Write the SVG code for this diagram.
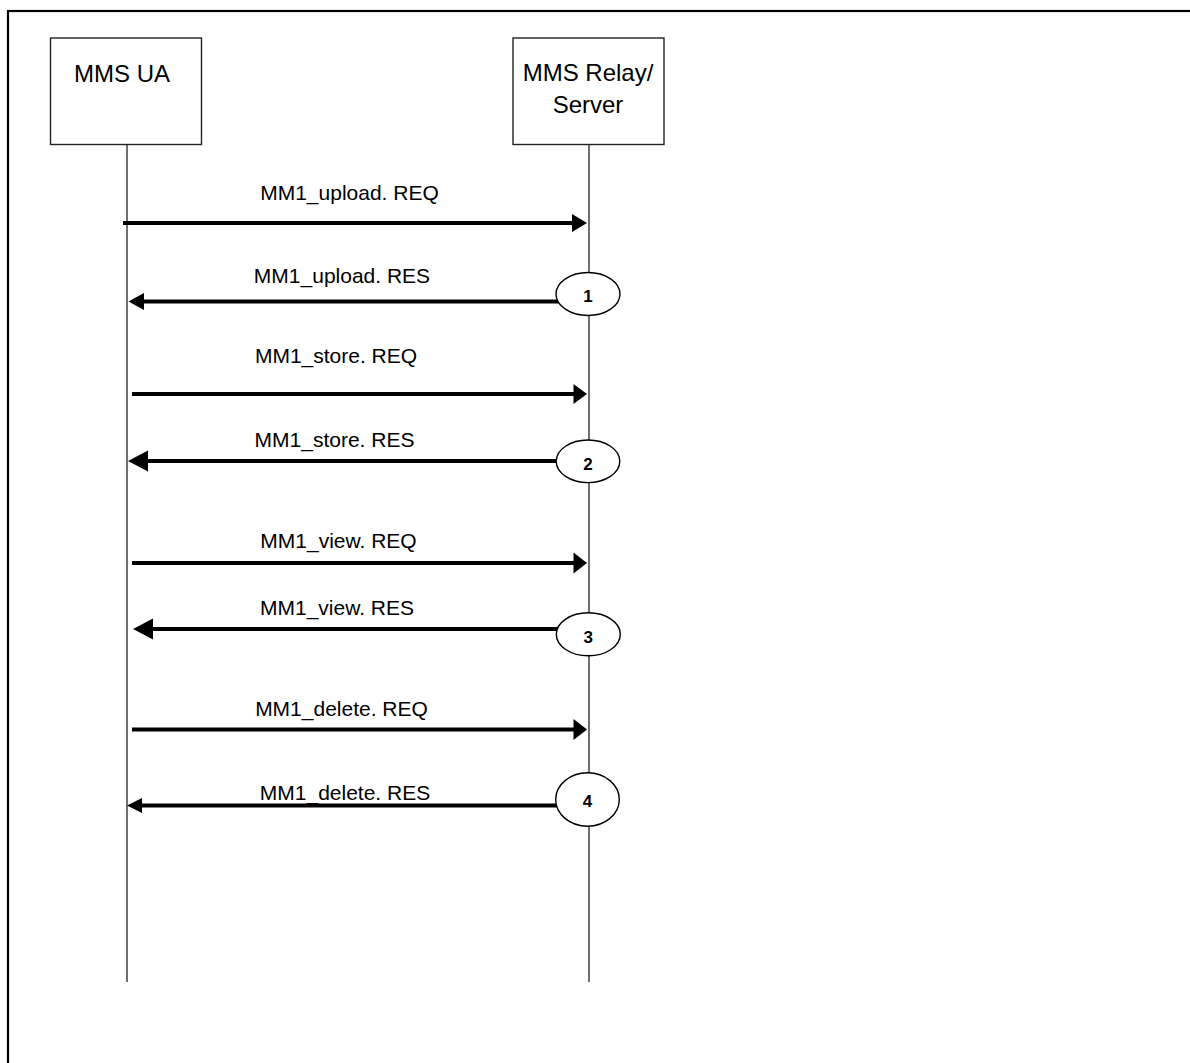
<svg xmlns="http://www.w3.org/2000/svg" width="1190" height="1063" viewBox="0 0 1190 1063">
<style>
.box{fill:#fff;stroke:#222;stroke-width:1.4}
.life{stroke:#333;stroke-width:1.4;fill:none}
.msg{stroke:#000;stroke-width:4;fill:none}
.head{fill:#000;stroke:none}
.lbl{font-family:"Liberation Sans",Arial,sans-serif;font-size:21px;fill:#000;text-anchor:middle}
.name{font-family:"Liberation Sans",Arial,sans-serif;font-size:24px;fill:#000;text-anchor:middle}
.ell{fill:#fff;stroke:#000;stroke-width:1.4}
.num{font-family:"Liberation Sans",Arial,sans-serif;font-size:17px;font-weight:bold;fill:#000;text-anchor:middle}
</style>
<rect x="0" y="0" width="1190" height="1063" fill="#fff"/>
<rect x="8" y="11" width="1200" height="1100" fill="none" stroke="#000" stroke-width="2.2"/>

<g id="lifelines">
<line class="life" x1="127" y1="145" x2="127" y2="982"/>
<line class="life" x1="589" y1="145" x2="589" y2="982"/>
</g>

<g id="node-mms-ua">
<rect class="box" x="50.5" y="38" width="151" height="106.5"/>
<text class="name" x="122" y="82">MMS UA</text>
</g>

<g id="node-mms-relay">
<rect class="box" x="513" y="38" width="151" height="106.5"/>
<text class="name" x="588" y="81">MMS Relay/</text>
<text class="name" x="588" y="113">Server</text>
</g>

<g id="connectors">
<line class="msg" x1="123" y1="223" x2="573" y2="223"/>
<polygon class="head" points="587,223 572,214 572,232"/>
<text class="lbl" x="349.5" y="200">MM1_upload. REQ</text>

<line class="msg" x1="558" y1="301.5" x2="142" y2="301.5"/>
<polygon class="head" points="128.5,301.5 144,293 144,310"/>
<text class="lbl" x="342" y="283">MM1_upload. RES</text>

<line class="msg" x1="132" y1="394" x2="575" y2="394"/>
<polygon class="head" points="587,394 573.5,384 573.5,404"/>
<text class="lbl" x="336" y="363">MM1_store. REQ</text>

<line class="msg" x1="557" y1="461" x2="146" y2="461"/>
<polygon class="head" points="128,461 148,450.5 148,471.5"/>
<text class="lbl" x="334.5" y="447">MM1_store. RES</text>

<line class="msg" x1="132" y1="563" x2="575" y2="563"/>
<polygon class="head" points="587,563 573.5,552.5 573.5,573.5"/>
<text class="lbl" x="338.5" y="548">MM1_view. REQ</text>

<line class="msg" x1="561" y1="629" x2="151" y2="629"/>
<polygon class="head" points="133,629 153,618.5 153,639.5"/>
<text class="lbl" x="337" y="615">MM1_view. RES</text>

<line class="msg" x1="132" y1="729.5" x2="575" y2="729.5"/>
<polygon class="head" points="587,729.5 573.5,719 573.5,740"/>
<text class="lbl" x="341.5" y="716">MM1_delete. REQ</text>

<line class="msg" x1="557" y1="805.5" x2="140" y2="805.5"/>
<polygon class="head" points="127,805.5 142,798 142,813"/>
<text class="lbl" x="345" y="800">MM1_delete. RES</text>
</g>

<g id="node-step-1">
<ellipse class="ell" cx="588" cy="294" rx="32" ry="21.5"/>
<text class="num" x="588" y="301.5">1</text>
</g>
<g id="node-step-2">
<ellipse class="ell" cx="588" cy="461.3" rx="31.8" ry="21.3"/>
<text class="num" x="588" y="469.5">2</text>
</g>
<g id="node-step-3">
<ellipse class="ell" cx="588.3" cy="634.3" rx="32" ry="21.5"/>
<text class="num" x="588.3" y="642.5">3</text>
</g>
<g id="node-step-4">
<ellipse class="ell" cx="587.5" cy="799.5" rx="31.8" ry="26.7"/>
<text class="num" x="587.5" y="806.5">4</text>
</g>
</svg>
